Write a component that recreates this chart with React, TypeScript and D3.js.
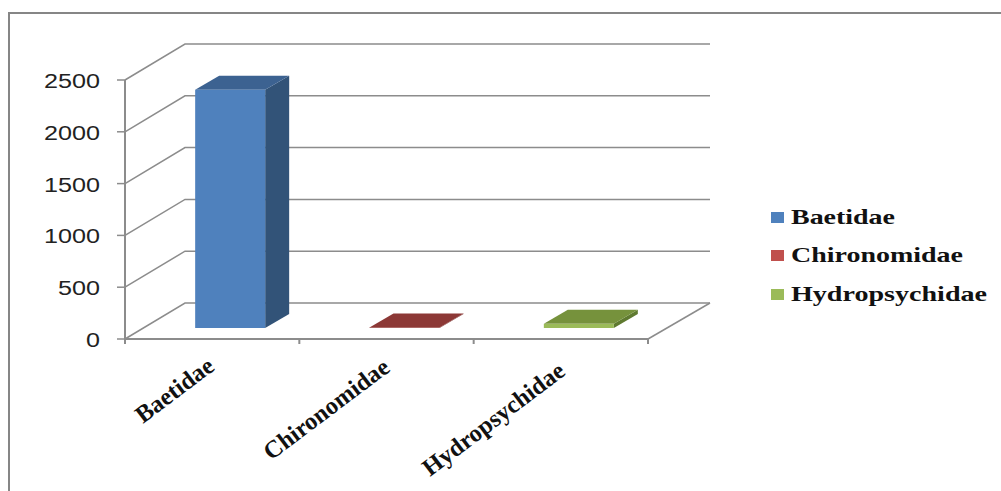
import React from "react";
import * as d3 from "d3";

const categories = ["Baetidae", "Chironomidae", "Hydropsychidae"];
const values = [2300, 5, 40];
const yTicks = [0, 500, 1000, 1500, 2000, 2500];
const frontColors = ["#4f81bd", "#943634", "#9bbb59"];
const topColors = ["#3c6291", "#8c3836", "#76923c"];
const sideColors = ["#325378", "#7a2f2d", "#5f7a30"];
const legendColors = ["#4f81bd", "#c0504d", "#9bbb59"];
const legendLengths = [104, 172, 196];
const legendY = [223, 261, 300];
const labelPos: [number, number][] = [[143, 424], [271, 461], [430, 477]];

const W = 1001, H = 491;
const DEPTH = { dx: 60, dy: -36 };
const BAR_DEPTH = { dx: 24, dy: -14 };
const GRID = "#8c8c8c";

export default function App() {
  const x = d3.scaleBand<string>().domain(categories).range([125, 648]).paddingInner(0.6).paddingOuter(0.3);
  const xEdge = d3.scaleLinear().domain([0, categories.length]).range([125, 648]);
  const y = d3.scaleLinear().domain([0, 2500]).range([339, 80]);
  const barY = d3.scaleLinear().domain([0, 2500]).range([328, 69]);
  const barShift = 18;
  const poly = (pts: [number, number][]) => d3.line()(pts) + "Z";

  return (
    <svg width={W} height={H} style={{ position: "absolute", left: 0, top: 0, background: "#fff" }}>
      <rect x={9} y={13} width={W + 10} height={H} fill="#fff" stroke="#868686" strokeWidth={2} />
      {yTicks.map((t) => {
        const yy = y(t);
        return (
          <g key={t}>
            <path d={`M125,${yy}L${125 + DEPTH.dx},${yy + DEPTH.dy}H${648 + DEPTH.dx + 2}`} fill="none" stroke={GRID} strokeWidth={1.5} />
            <line x1={117} x2={125} y1={yy} y2={yy} stroke={GRID} strokeWidth={1.5} />
            <text x={100} y={yy + 8} textAnchor="end" textLength={t === 0 ? 14 : t < 1000 ? 42 : 56} lengthAdjust="spacingAndGlyphs" fontFamily="'Liberation Sans'" fontSize={19.5} fill="#222">{t}</text>
          </g>
        );
      })}
      <line x1={125} x2={125} y1={80} y2={344} stroke={GRID} strokeWidth={2} />
      <line x1={125} x2={648} y1={339} y2={339} stroke={GRID} strokeWidth={2} />
      <line x1={648} x2={710} y1={339} y2={303} stroke={GRID} strokeWidth={1.5} />
      {d3.range(categories.length + 1).map((i) => (
        <line key={i} x1={xEdge(i)} x2={xEdge(i)} y1={339} y2={344} stroke={GRID} strokeWidth={2} />
      ))}
      {categories.map((c, i) => {
        const x0 = (x(c) as number) + x.bandwidth() / 2 + barShift - 35;
        const x1 = x0 + 70;
        const y0 = barY(0), y1 = barY(values[i]);
        const { dx, dy } = BAR_DEPTH;
        return (
          <g key={c}>
            <path d={poly([[x1, y0], [x1 + dx, y0 + dy], [x1 + dx, y1 + dy], [x1, y1]])} fill={sideColors[i]} />
            <path d={poly([[x0, y1], [x0 + dx, y1 + dy], [x1 + dx, y1 + dy], [x1, y1]])} fill={topColors[i]} />
            <rect x={x0} y={y1} width={70} height={y0 - y1} fill={frontColors[i]} />
          </g>
        );
      })}
      {categories.map((c, i) => (
        <text key={c} transform={`translate(${labelPos[i][0]},${labelPos[i][1]}) rotate(-37)`} fontFamily="'Liberation Serif'" fontWeight="bold" fontSize={24.5} fill="#111">{c}</text>
      ))}
      {categories.map((c, i) => (
        <g key={c}>
          <rect x={771} y={legendY[i] - 11} width={13} height={11} fill={legendColors[i]} />
          <text x={791} y={legendY[i] + 1} textLength={legendLengths[i]} lengthAdjust="spacingAndGlyphs" fontFamily="'Liberation Serif'" fontWeight="bold" fontSize={21} fill="#111">{c}</text>
        </g>
      ))}
    </svg>
  );
}
